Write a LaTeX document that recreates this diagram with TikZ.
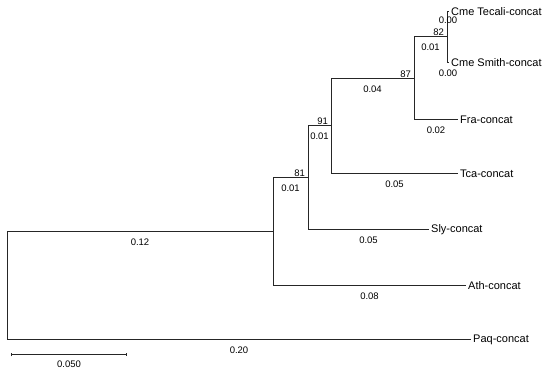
\documentclass[tikz,border=0pt]{standalone}
\usepackage{fontspec}
\setmainfont{Liberation Sans}
\usepackage{xcolor}
\usetikzlibrary{arrows.meta,positioning}

\begin{document}
\begin{tikzpicture}[x=1pt,y=-1pt,font=\fontsize{9.5}{11}\selectfont,
  branch/.style={line width=1pt,draw=black!85},
  taxon/.style={anchor=west,inner sep=2pt,font=\fontsize{11}{13}\selectfont},
  blen/.style={anchor=north,inner sep=1pt,yshift=-5pt},
  boot/.style={anchor=south east,inner sep=1pt,xshift=-1.5pt}]
  \useasboundingbox (0,0) rectangle (550,371);
  % internal nodes
  \coordinate (n0) at (7,232);
  \coordinate (n1) at (273,232);
  \coordinate (n2) at (308,178);
  \coordinate (n3) at (331,126);
  \coordinate (n4) at (414,79);
  \coordinate (n5) at (447,37);
  % tips
  \coordinate (paq) at (471,340);
  \coordinate (ath) at (466,286);
  \coordinate (sly) at (429,230);
  \coordinate (tca) at (458,174);
  \coordinate (fra) at (458,120);
  \coordinate (cmes) at (449,63);
  \coordinate (cmet) at (449,12);
  % branches
  \draw[branch] (n0) -- (n1) node[midway,blen] (l01) {0.12};
  \draw[branch] (n0) |- (paq) node[pos=0.75,blen] (lpaq) {0.20};
  \draw[branch] (n1) |- (ath) node[pos=0.75,blen] (lath) {0.08};
  \draw[branch] (n1) |- (n2) node[pos=0.75,blen] (l12) {0.01} node[pos=1,boot] (s2) {81};
  \draw[branch] (n2) |- (sly) node[pos=0.75,blen] (lsly) {0.05};
  \draw[branch] (n2) |- (n3) node[pos=0.75,blen] (l23) {0.01} node[pos=1,boot] (s3) {91};
  \draw[branch] (n3) |- (tca) node[pos=0.75,blen] (ltca) {0.05};
  \draw[branch] (n3) |- (n4) node[pos=0.75,blen] (l34) {0.04} node[pos=1,boot] (s4) {87};
  \draw[branch] (n4) |- (fra) node[pos=0.75,blen] (lfra) {0.02};
  \draw[branch] (n4) |- (n5) node[pos=0.75,blen] (l45) {0.01} node[pos=1,boot] (s5) {82};
  \draw[branch] (n5) |- (cmet) node[pos=0.75,blen,yshift=2pt] (lcmet) {0.00};
  \draw[branch] (n5) |- (cmes) node[pos=0.75,blen] (lcmes) {0.00};
  % tip labels
  \node[taxon] (tpaq) at (paq) {Paq-concat};
  \node[taxon] (tath) at (ath) {Ath-concat};
  \node[taxon] (tsly) at (sly) {Sly-concat};
  \node[taxon] (ttca) at (tca) {Tca-concat};
  \node[taxon] (tfra) at (fra) {Fra-concat};
  \node[taxon] (tcmes) at (cmes) {Cme Smith-concat};
  \node[taxon] (tcmet) at (cmet) {Cme Tecali-concat};
  % scale bar
  \coordinate (barL) at (11,355);
  \coordinate (barR) at (127,355);
  \draw[branch,{Bar[width=3pt]}-{Bar[width=3pt]}] (barL) -- (barR) node[midway,blen,yshift=1pt] (lbar) {0.050};
\end{tikzpicture}
\end{document}
